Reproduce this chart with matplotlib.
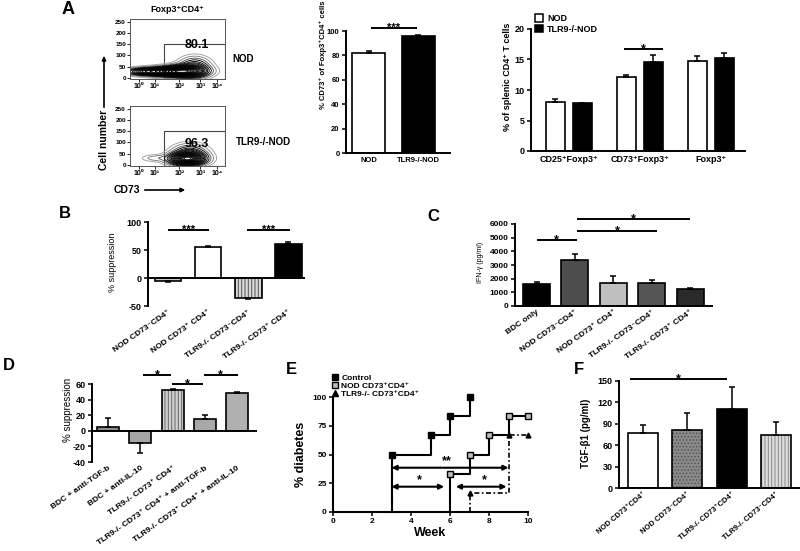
import numpy as np
import matplotlib
matplotlib.use('Agg')
import matplotlib.pyplot as plt
from matplotlib.patches import Rectangle, Patch
from matplotlib.lines import Line2D

plt.rcParams['font.family'] = ['Liberation Sans', 'DejaVu Sans']
plt.rcParams['hatch.linewidth'] = 0.7

# ---------------- DATA ----------------
# Panel A (flow plots)
flow_xtick_pos = [0.09, 0.26, 0.52, 0.74, 0.92]
flow_xtick_labels = ['10⁰', '10¹', '10²', '10³', '10⁴']
flow_yticks = [0, 50, 100, 150, 200, 250]
flow_gate_left = 0.36
flow_gate_top = 150
flow_gate_pct = ['80.1', '96.3']
flow_names = ['NOD', 'TLR9-/-NOD']
# density components (u position, y position, u spread, y spread, weight)
nod_cu = [0.58, 0.38, 0.15, 0.68]
nod_cy = [30, 28, 28, 45]
nod_su = [0.12, 0.13, 0.10, 0.09]
nod_sy = [14, 11, 9, 25]
nod_w = [1.0, 0.8, 0.45, 0.3]
tlr_cu = [0.60, 0.63, 0.28]
tlr_cy = [27, 45, 30]
tlr_su = [0.10, 0.10, 0.09]
tlr_sy = [15, 24, 9]
tlr_w = [1.0, 0.3, 0.05]

# Panel A middle
a2_groups = ['NOD', 'TLR9-/-NOD']
a2_vals = [82.0, 96.0]
a2_err = [1.2, 0.6]

# Panel A right
a3_cats = ['CD25⁺Foxp3⁺', 'CD73⁺Foxp3⁺', 'Foxp3⁺']
a3_nod = [8.1, 12.1, 14.8]
a3_nod_err = [0.5, 0.4, 0.7]
a3_tlr = [7.8, 14.6, 15.2]
a3_tlr_err = [0.15, 1.1, 0.9]

# Panel B
b_cats = ['NOD CD73⁻CD4⁺', 'NOD CD73⁺ CD4⁺', 'TLR9-/- CD73⁻CD4⁺', 'TLR9-/- CD73⁺ CD4⁺']
b_vals = [-6, 55, -35, 60]
b_err = [2, 2, 2, 4]

# Panel C
c_cats = ['BDC only', 'NOD CD73⁻CD4⁺', 'NOD CD73⁺ CD4⁺', 'TLR9-/- CD73⁻CD4⁺', 'TLR9-/- CD73⁺ CD4⁺']
c_vals = [1620, 3380, 1700, 1660, 1260]
c_err = [150, 450, 520, 220, 90]

# Panel D
d_cats = ['BDC + anti-TGF-b', 'BDC + anti-IL-10', 'TLR9-/- CD73⁺ CD4⁺',
          'TLR9-/- CD73⁺ CD4⁺ + anti-TGF-b', 'TLR9-/- CD73⁺ CD4⁺ + anti-IL-10']
d_vals = [5, -15, 52, 15, 48]
d_err = [12, 13, 2, 5, 2]

# Panel E
e_ctrl_weeks = [3, 5, 6, 7]
e_ctrl_pct = [50, 66.7, 83.3, 100]
e_nod_weeks = [6, 7, 8, 9, 10]
e_nod_pct = [33.3, 50, 66.7, 83.3, 83.3]
e_tlr_weeks = [7, 9, 10]
e_tlr_pct = [16.7, 66.7, 66.7]
e_labels = ['Control', 'NOD CD73⁺CD4⁺', 'TLR9-/- CD73⁺CD4⁺']

# Panel F
f_cats = ['NOD CD73⁺CD4⁺', 'NOD CD73⁻CD4⁺', 'TLR9-/- CD73⁺CD4⁺', 'TLR9-/- CD73⁻CD4⁺']
f_vals = [77, 82, 111, 74]
f_err = [11, 23, 30, 18]

# ---------------- FIGURE ----------------
W, H = 800, 551
fig = plt.figure(figsize=(8, 5.51), dpi=100)


def axp(x0, y0, x1, y1):
    return fig.add_axes([x0 / W, 1 - y1 / H, (x1 - x0) / W, (y1 - y0) / H])


def ftext(x, y, s, **kw):
    fig.text(x / W, 1 - y / H, s, **kw)


def style(ax, fs=6, lw=1.4):
    for s in ['top', 'right']:
        ax.spines[s].set_visible(False)
    for s in ['left', 'bottom']:
        ax.spines[s].set_linewidth(lw)
    ax.tick_params(direction='out', length=3, width=1.1, labelsize=fs, pad=1.5)


def bars(ax, x, vals, errs, colors, hatches, width, hatch_colors=None):
    if hatch_colors is None:
        hatch_colors = ['black'] * len(vals)
    for xi, v, e, c, h, hc in zip(x, vals, errs, colors, hatches, hatch_colors):
        if h:
            ax.bar(xi, v, width, color=c, edgecolor=hc, hatch=h, linewidth=0, zorder=2)
            ax.bar(xi, v, width, fill=False, edgecolor='black', linewidth=1.2, zorder=3)
        else:
            ax.bar(xi, v, width, color=c, edgecolor='black', linewidth=1.2, zorder=2)
        lo, hi = (0, e) if v >= 0 else (e, 0)
        ax.errorbar(xi, v, yerr=[[lo], [hi]], fmt='none', ecolor='black',
                    elinewidth=1.1, capsize=2.5, capthick=1.1, zorder=4, clip_on=False)


def sig(ax, x0, x1, y, label, fs=9, off=-2.2):
    ax.plot([x0, x1], [y, y], color='black', lw=1.4, clip_on=False, solid_capstyle='butt')
    ax.annotate(label, xy=((x0 + x1) / 2, y), xytext=(0, off), textcoords='offset points',
                ha='center', va='baseline', fontsize=fs, fontweight='bold', annotation_clip=False)


# ---------- Panel A: flow plots ----------
def density(U, Y, cu, cy, su, sy, w):
    Z = np.zeros_like(U)
    for a, b, c, d, e in zip(cu, cy, su, sy, w):
        Z += e * np.exp(-0.5 * ((U - a) / c) ** 2 - 0.5 * ((Y - b) / d) ** 2)
    return Z


uu = np.linspace(0, 1, 300)
yy = np.linspace(-5, 263, 300)
U, Y = np.meshgrid(uu, yy)
levels_rel = [0.01, 0.025, 0.05, 0.08, 0.12, 0.16, 0.2, 0.25, 0.3, 0.35, 0.4, 0.46, 0.52,
              0.58, 0.64, 0.7, 0.76, 0.82, 0.88, 0.94]
params = [(nod_cu, nod_cy, nod_su, nod_sy, nod_w), (tlr_cu, tlr_cy, tlr_su, tlr_sy, tlr_w)]
boxes = [(130, 19, 225, 79), (130, 106, 225, 166)]
for k, (bx, pr) in enumerate(zip(boxes, params)):
    ax = axp(*bx)
    Z = density(U, Y, *pr)
    lv = [l * Z.max() for l in levels_rel]
    cols = ['#a0a0a0', '#808080', '#555555'] + ['black'] * (len(lv) - 3)
    ax.contour(U, Y, Z, levels=lv, colors=cols, linewidths=0.65)
    ax.add_patch(Rectangle((flow_gate_left, -5), 1 - flow_gate_left, flow_gate_top + 5,
                           fill=False, edgecolor='#444444', lw=0.8))
    ax.set_xlim(0, 1)
    ax.set_ylim(-5, 263)
    ax.set_xticks(flow_xtick_pos)
    ax.set_xticklabels(flow_xtick_labels, fontsize=5, fontweight='bold')
    ax.set_yticks(flow_yticks)
    ax.set_yticklabels([str(t) for t in flow_yticks], fontsize=4.6, fontweight='bold')
    ax.tick_params(length=2, width=0.6, pad=1)
    for s in ax.spines.values():
        s.set_linewidth(0.7)
        s.set_color('#555555')
    ax.text(0.70, 0.57 if k == 0 else 0.37, flow_gate_pct[k], transform=ax.transAxes,
            ha='center', va='center', fontsize=9, fontweight='bold')

ftext(232, 59, flow_names[0], ha='left', va='center', fontsize=7, fontweight='bold')
ftext(236, 142, flow_names[1], ha='left', va='center', fontsize=7, fontweight='bold')
ftext(177, 10, 'Foxp3⁺CD4⁺', ha='center', va='center', fontsize=6.5, fontweight='bold')
ftext(68, 10, 'A', ha='center', va='center', fontsize=13, fontweight='bold')
ftext(104, 140, 'Cell number', rotation=90, ha='center', va='center', fontsize=7.5, fontweight='bold')
fig.add_artist(matplotlib.patches.FancyArrowPatch((104 / W, 1 - 110 / H), (104 / W, 1 - 53 / H),
               transform=fig.transFigure, arrowstyle='-|>', mutation_scale=6, lw=1.2, color='black'))
ftext(127, 190, 'CD73', ha='center', va='center', fontsize=7.5, fontweight='bold')
fig.add_artist(matplotlib.patches.FancyArrowPatch((142 / W, 1 - 190 / H), (188 / W, 1 - 190 / H),
               transform=fig.transFigure, arrowstyle='-|>', mutation_scale=6, lw=1.2, color='black'))

# ---------- Panel A middle ----------
ax = axp(346, 31, 450, 153)
style(ax)
x = np.arange(len(a2_vals))
bars(ax, x, a2_vals, a2_err, ['white', 'black'], [None, None], 0.667)
ax.set_xlim(-0.455, 1.646)
ax.set_ylim(0, 100)
ax.set_yticks([0, 20, 40, 60, 80, 100])
ax.set_yticklabels(['0', '20', '40', '60', '80', '100'], fontweight='bold', fontsize=5.5)
ax.set_xticks(x)
ax.set_xticklabels(a2_groups, fontsize=5.5, fontweight='bold')
ax.tick_params(axis='x', length=0, pad=3)
sig(ax, 0.05, 0.98, 102.5, '***', fs=8)
ftext(323, 55, '% CD73⁺ of Foxp3⁺CD4⁺ cells', rotation=90, ha='center', va='center',
      fontsize=5.5, fontweight='bold')

# ---------- Panel A right ----------
ax = axp(531, 29, 745, 151)
style(ax)
g = np.arange(len(a3_cats))
bars(ax, g - 0.19, a3_nod, a3_nod_err, ['white'] * 3, [None] * 3, 0.27)
bars(ax, g + 0.19, a3_tlr, a3_tlr_err, ['black'] * 3, [None] * 3, 0.27)
ax.set_xlim(-0.535, 2.48)
ax.set_ylim(0, 20)
ax.set_yticks([0, 5, 10, 15, 20])
ax.set_yticklabels(['0', '5', '10', '15', '20'], fontweight='bold', fontsize=6.5)
ax.set_xticks(g)
ax.set_xticklabels(a3_cats, fontsize=6.5, fontweight='bold')
ax.tick_params(axis='x', length=0, pad=3)
sig(ax, 0.775, 1.32, 16.7, '*', fs=9)
ax.legend(handles=[Patch(facecolor='white', edgecolor='black', lw=1.1, label='NOD'),
                   Patch(facecolor='black', edgecolor='black', lw=1.1, label='TLR9-/-NOD')],
          loc='upper left', bbox_to_anchor=(0.02, 1.12), frameon=False,
          handlelength=0.9, handleheight=0.9, handletextpad=0.4, labelspacing=0.15,
          borderpad=0, borderaxespad=0, prop={'weight': 'bold', 'size': 6.5})
ftext(507, 77, '% of splenic CD4⁺ T cells', rotation=90, ha='center', va='center',
      fontsize=6.5, fontweight='bold')

# ---------- Panel B ----------
ax = axp(148, 222, 305, 306)
style(ax)
ax.spines['bottom'].set_visible(False)
x = np.arange(len(b_vals))
bars(ax, x, b_vals, b_err, ['#c8c8c8', 'white', '#d8d8d8', 'black'], [None, None, '|||||', None],
     0.67, hatch_colors=['black', 'black', '#555555', 'black'])
ax.axhline(0, color='black', lw=1.4, zorder=5)
ax.set_xlim(-0.5, 3.42)
ax.set_ylim(-50, 100)
ax.set_yticks([-50, 0, 50, 100])
ax.set_yticklabels(['-50', '0', '50', '100'], fontweight='bold', fontsize=6.5)
ax.set_xticks(x)
ax.set_xticklabels(b_cats, rotation=35, ha='right', rotation_mode='anchor', fontsize=6,
                   fontweight='bold')
ax.tick_params(axis='x', length=0, pad=2)
sig(ax, 0.0, 1.02, 86, '***', fs=8)
sig(ax, 1.98, 3.05, 86, '***', fs=8)
ftext(113, 262, '% suppression', rotation=90, ha='center', va='center', fontsize=6.5)
ftext(65, 213, 'B', ha='center', va='center', fontsize=12, fontweight='bold')

# ---------- Panel C ----------
ax = axp(515, 224, 712, 306)
style(ax)
x = np.arange(len(c_vals))
bars(ax, x, c_vals, c_err, ['black', '#4d4d4d', '#bfbfbf', '#555555', '#2a2a2a'], [None] * 5, 0.7)
ax.set_xlim(-0.56, 4.57)
ax.set_ylim(0, 6000)
ax.set_yticks([0, 1000, 2000, 3000, 4000, 5000, 6000])
ax.set_yticklabels(['0', '1000', '2000', '3000', '4000', '5000', '6000'], fontweight='bold', fontsize=6)
ax.set_xticks(x)
ax.set_xticklabels(c_cats, rotation=35, ha='right', rotation_mode='anchor', fontsize=6,
                   fontweight='bold')
ax.tick_params(axis='x', length=0, pad=2)
sig(ax, -0.0, 1.05, 4830, '*')
sig(ax, 1.05, 3.15, 5490, '*')
sig(ax, 1.05, 3.99, 6366, '*')
ftext(480, 262, 'IFN-γ (pg/ml)', rotation=90, ha='center', va='center', fontsize=5)
ftext(433, 217, 'C', ha='center', va='center', fontsize=12, fontweight='bold')

# ---------- Panel D ----------
ax = axp(92, 384, 257, 462)
style(ax)
ax.spines['bottom'].set_visible(False)
x = np.arange(len(d_vals))
bars(ax, x, d_vals, d_err, ['#8c8c8c', '#a6a6a6', '#d0d0d0', '#a8a8a8', '#b0b0b0'],
     [None, None, '|||||', None, None], 0.68, hatch_colors=['k', 'k', '#666666', 'k', 'k'])
ax.axhline(0, color='black', lw=1.4, zorder=5)
ax.set_xlim(-0.5, 4.62)
ax.set_ylim(-40, 60)
ax.set_yticks([-40, -20, 0, 20, 40, 60])
ax.set_yticklabels(['-40', '-20', '0', '20', '40', '60'], fontweight='bold', fontsize=6.5)
ax.set_xticks(x)
ax.set_xticklabels(d_cats, rotation=35, ha='right', rotation_mode='anchor', fontsize=6,
                   fontweight='bold')
ax.tick_params(axis='x', length=0, pad=2)
sig(ax, 1.08, 1.95, 72, '*')
sig(ax, 1.98, 2.93, 60, '*')
sig(ax, 2.96, 4.03, 72, '*')
ftext(68, 410, '% suppression', rotation=90, ha='center', va='center', fontsize=7)
ftext(9, 366, 'D', ha='center', va='center', fontsize=12, fontweight='bold')

# ---------- Panel E ----------
ax = axp(333, 397, 528, 512)
style(ax, fs=6, lw=1.5)
ax.step([e_ctrl_weeks[0]] + e_ctrl_weeks, [0] + e_ctrl_pct, where='post', color='black', lw=1.5,
        clip_on=False)
ax.step([e_nod_weeks[0]] + e_nod_weeks, [0] + e_nod_pct, where='post', color='black', lw=1.5,
        clip_on=False)
ax.step([e_tlr_weeks[0]] + e_tlr_weeks, [0] + e_tlr_pct, where='post', color='black', lw=1.2,
        ls=(0, (3, 1.5, 1, 1.5)), clip_on=False)
ax.plot(e_ctrl_weeks, e_ctrl_pct, 's', color='black', ms=4.5, clip_on=False, zorder=5)
ax.plot(e_nod_weeks, e_nod_pct, 's', mfc='#bdbdbd', mec='black', mew=1, ms=5, clip_on=False, zorder=5)
ax.plot(e_tlr_weeks, e_tlr_pct, '^', color='black', ms=3.5, clip_on=False, zorder=6)
ax.set_xlim(0, 10)
ax.set_ylim(0, 100)
ax.set_xticks([0, 2, 4, 6, 8, 10])
ax.set_xticklabels(['0', '2', '4', '6', '8', '10'], fontweight='bold')
ax.set_yticks([0, 25, 50, 75, 100])
ax.set_yticklabels(['0', '25', '50', '75', '100'], fontweight='bold')
arr = dict(arrowstyle='<|-|>', lw=1.5, color='black', mutation_scale=7, shrinkA=0, shrinkB=0)
ax.annotate('', xy=(9.0, 38.5), xytext=(3.0, 38.5), arrowprops=arr)
ax.annotate('', xy=(5.7, 22), xytext=(3.0, 22), arrowprops=arr)
ax.annotate('', xy=(8.9, 22), xytext=(6.3, 22), arrowprops=arr)
ax.text(5.85, 42, '**', ha='center', va='baseline', fontsize=9, fontweight='bold')
ax.text(4.45, 25, '*', ha='center', va='baseline', fontsize=9, fontweight='bold')
ax.text(7.75, 25, '*', ha='center', va='baseline', fontsize=9, fontweight='bold')
ax.set_xlabel('Week', fontsize=9, fontweight='bold', labelpad=1)
ax.set_ylabel('% diabetes', fontsize=9, fontweight='bold', labelpad=4)
ax.legend(handles=[Line2D([], [], marker='s', ls='none', color='black', ms=4, label=e_labels[0]),
                   Line2D([], [], marker='s', ls='none', mfc='#bdbdbd', mec='black', ms=4, label=e_labels[1]),
                   Line2D([], [], marker='^', ls='none', color='black', ms=4, label=e_labels[2])],
          loc='lower left', bbox_to_anchor=(-0.005, 0.99), frameon=False,
          handlelength=0.6, handletextpad=0.5, labelspacing=0.05, borderpad=0, borderaxespad=0,
          prop={'weight': 'bold', 'size': 6})
ftext(291, 369, 'E', ha='center', va='center', fontsize=12, fontweight='bold')

# ---------- Panel F ----------
ax = axp(619, 381, 800, 488)
style(ax)
x = np.arange(len(f_vals))
bars(ax, x, f_vals, f_err, ['white', '#8a8a8a', 'black', '#dcdcdc'], [None, '.....', None, '|||||'],
     0.68, hatch_colors=['k', '#555555', 'k', '#888888'])
ax.set_xlim(-0.54, 3.54)
ax.set_ylim(0, 150)
ax.set_yticks([0, 30, 60, 90, 120, 150])
ax.set_yticklabels(['0', '30', '60', '90', '120', '150'], fontweight='bold', fontsize=6.5)
ax.set_xticks(x)
ax.set_xticklabels(f_cats, rotation=40, ha='right', rotation_mode='anchor', fontsize=5.5,
                   fontweight='bold')
ax.tick_params(axis='x', length=0, pad=2)
sig(ax, -0.3, 1.9, 153, '*')
ftext(586, 433, 'TGF-β1 (pg/ml)', rotation=90, ha='center', va='center', fontsize=7, fontweight='bold')
ftext(579, 369, 'F', ha='center', va='center', fontsize=12, fontweight='bold')

fig.savefig('out.png', dpi=100)
